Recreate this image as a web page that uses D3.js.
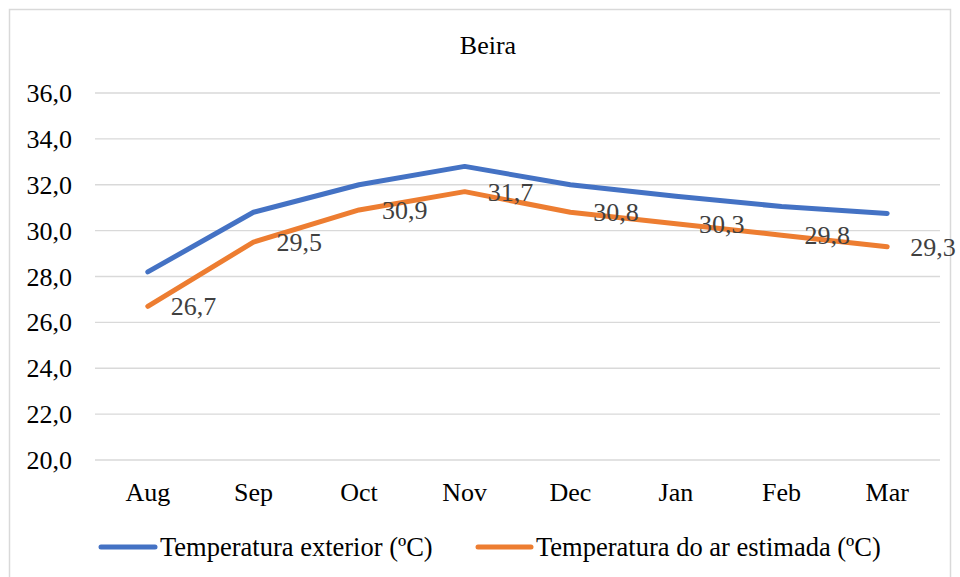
<!DOCTYPE html>
<html>
<head>
<meta charset="utf-8">
<script src="https://cdn.jsdelivr.net/npm/d3@7"></script>
<style>
  body { margin: 0; background: #fff; }
</style>
</head>
<body>
<div id="chart"></div>
<script>
var months = ['Aug', 'Sep', 'Oct', 'Nov', 'Dec', 'Jan', 'Feb', 'Mar'];
var exterior = [28.2, 30.8, 32.0, 32.8, 32.0, 31.5, 31.05, 30.75];
var estimada = [26.7, 29.5, 30.9, 31.7, 30.8, 30.3, 29.8, 29.3];
var yTicks = [20, 22, 24, 26, 28, 30, 32, 34, 36];
var seriesNames = ['Temperatura exterior (ºC)', 'Temperatura do ar estimada (ºC)'];

var width = 960, height = 577;
var fontFam = "'Liberation Serif', 'DejaVu Serif', serif";
var fs = '26px';
var fmt = function(v) { return d3.format('.1f')(v).replace('.', ','); };

var svg = d3.select('#chart').append('svg')
    .attr('width', width)
    .attr('height', height)
    .attr('font-family', fontFam);

// chart border
svg.append('rect')
    .attr('x', 9.5).attr('y', 9.5)
    .attr('width', 941).attr('height', 575)
    .attr('fill', '#fff')
    .attr('stroke', '#d9d9d9')
    .attr('stroke-width', 1.5);

var x = d3.scaleBand()
    .domain(months)
    .range([95, 940]);

var y = d3.scaleLinear()
    .domain([20, 36])
    .range([460, 93]);

// gridlines
svg.append('g')
    .selectAll('line')
    .data(yTicks)
    .join('line')
    .attr('x1', 95).attr('x2', 940)
    .attr('y1', d => y(d)).attr('y2', d => y(d))
    .attr('stroke', '#d9d9d9')
    .attr('stroke-width', 1.3);

// y labels
svg.append('g')
    .selectAll('text')
    .data(yTicks)
    .join('text')
    .attr('x', 72)
    .attr('y', d => y(d))
    .attr('dy', '0.35em')
    .attr('text-anchor', 'end')
    .attr('font-size', fs)
    .attr('fill', '#000')
    .text(fmt);

// x labels
svg.append('g')
    .selectAll('text')
    .data(months)
    .join('text')
    .attr('x', d => x(d) + x.bandwidth() / 2)
    .attr('y', 501)
    .attr('text-anchor', 'middle')
    .attr('font-size', fs)
    .attr('fill', '#000')
    .text(d => d);

// title
svg.append('text')
    .attr('x', 488)
    .attr('y', 54)
    .attr('text-anchor', 'middle')
    .attr('font-size', fs)
    .attr('fill', '#000')
    .text('Beira');

var line = d3.line()
    .x((d, i) => x(months[i]) + x.bandwidth() / 2)
    .y(d => y(d));

var colors = ['#4472C4', '#ED7D31'];

[exterior, estimada].forEach(function(s, k) {
    svg.append('path')
        .datum(s)
        .attr('d', line)
        .attr('fill', 'none')
        .attr('stroke', colors[k])
        .attr('stroke-width', 5)
        .attr('stroke-linecap', 'round')
        .attr('stroke-linejoin', 'round');
});

// data labels for estimated series
svg.append('g')
    .selectAll('text')
    .data(estimada)
    .join('text')
    .attr('x', (d, i) => x(months[i]) + x.bandwidth() / 2 + 23)
    .attr('y', d => y(d))
    .attr('dy', '0.35em')
    .attr('font-size', fs)
    .attr('fill', '#404040')
    .text(fmt);

// legend
var legend = [
    {name: seriesNames[0], color: colors[0], x1: 101, x2: 155, tx: 160},
    {name: seriesNames[1], color: colors[1], x1: 478, x2: 531, tx: 536}
];
var lg = svg.append('g').selectAll('g').data(legend).join('g');
lg.append('line')
    .attr('x1', d => d.x1).attr('x2', d => d.x2)
    .attr('y1', 547).attr('y2', 547)
    .attr('stroke', d => d.color)
    .attr('stroke-width', 5)
    .attr('stroke-linecap', 'round');
lg.append('text')
    .attr('x', d => d.tx)
    .attr('y', 547)
    .attr('dy', '0.35em')
    .attr('font-size', '26.5px')
    .attr('fill', '#000')
    .text(d => d.name);
</script>
</body>
</html>
